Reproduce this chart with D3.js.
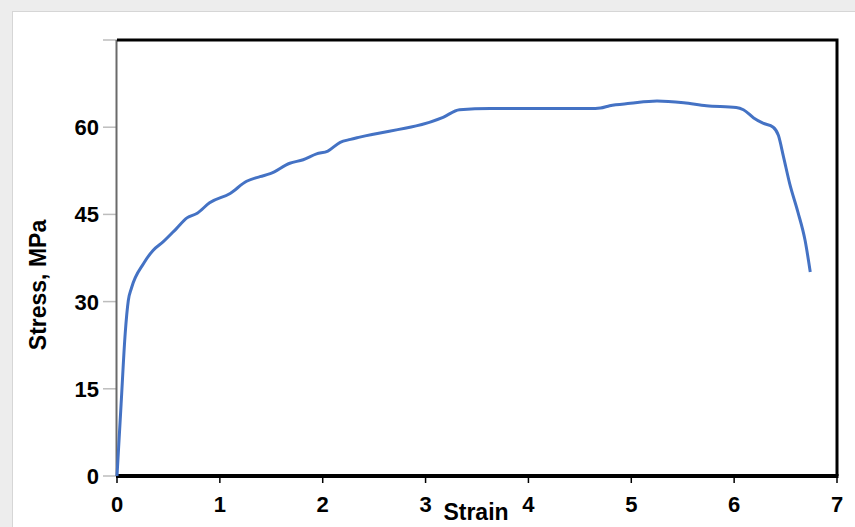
<!DOCTYPE html>
<html>
<head>
    <meta charset="UTF-8">
    <title>Stress-Strain Curve</title>
    <script src="https://d3js.org/d3.v7.min.js"></script>
    <style>
        body {
            margin: 0;
            background: #ededed;
            font-family: "Liberation Sans", Arial, sans-serif;
        }
        .tick-label {
            font-size: 22px;
            font-weight: bold;
            fill: #000;
        }
        .axis-title {
            font-size: 23px;
            font-weight: bold;
            fill: #000;
        }
    </style>
</head>
<body>
    <div id="chart"></div>

    <script type="text/javascript">
        // Strain / stress readings taken off the curve
        const strain = [0, 0.04, 0.08, 0.11, 0.14, 0.26, 0.35, 0.45, 0.58, 0.68, 0.78, 0.90,
            1.10, 1.26, 1.39, 1.49, 1.68, 1.81, 1.94, 2.05, 2.17, 2.27, 2.36,
            3.17, 3.33, 3.63, 4.60, 4.70, 4.79, 4.99, 5.25, 5.51, 5.73, 6.02,
            6.09, 6.19, 6.28, 6.38, 6.43, 6.48, 6.54, 6.62, 6.69, 6.74];
        const stress = [0, 12.4, 24.6, 30.2, 32.3, 36.6, 38.8, 40.3, 42.6, 44.4, 45.2, 47.0,
            48.6, 50.7, 51.5, 52.0, 53.8, 54.4, 55.4, 55.9, 57.4, 57.9, 58.3,
            61.7, 63.0, 63.2, 63.2, 63.3, 63.7, 64.1, 64.5, 64.2, 63.7, 63.4,
            63.0, 61.6, 60.7, 60.0, 58.6, 54.9, 50.3, 45.4, 40.5, 35.1];

        const xTicks = [0, 1, 2, 3, 4, 5, 6, 7];
        const yTicks = [0, 15, 30, 45, 60, 75];
        const yTickLabels = ["0", "15", "30", "45", "60", ""];

        const width = 855, height = 527;
        const plot = { left: 117, right: 837, top: 40, bottom: 476 };

        const svg = d3.select("#chart")
            .append("svg")
            .attr("width", width)
            .attr("height", height);

        // white panel on the grey page
        svg.append("rect")
            .attr("x", 12.5)
            .attr("y", 11.5)
            .attr("width", width)
            .attr("height", height)
            .attr("fill", "#fff")
            .attr("stroke", "#d6d6d6");

        const xScale = d3.scaleLinear().domain([0, 7]).range([plot.left, plot.right]);
        const yScale = d3.scaleLinear().domain([0, 75]).range([plot.bottom, plot.top]);

        // y axis: grey ticks to the left
        svg.append("g")
            .selectAll("line")
            .data(yTicks)
            .join("line")
            .attr("x1", plot.left - 14)
            .attr("x2", plot.left)
            .attr("y1", d => yScale(d))
            .attr("y2", d => yScale(d))
            .attr("stroke", "#bdbdbd")
            .attr("stroke-width", 1.5);

        svg.append("g")
            .selectAll("text")
            .data(yTicks)
            .join("text")
            .attr("class", "tick-label")
            .attr("x", plot.left - 18)
            .attr("y", d => yScale(d))
            .attr("dy", "0.36em")
            .attr("text-anchor", "end")
            .text((d, i) => yTickLabels[i]);

        // left spine
        svg.append("line")
            .attr("x1", plot.left - 0.5)
            .attr("x2", plot.left - 0.5)
            .attr("y1", plot.top)
            .attr("y2", plot.bottom)
            .attr("stroke", "#6a6a6a")
            .attr("stroke-width", 2);

        // top and right border
        svg.append("path")
            .attr("d", `M${plot.left},${plot.top}H${plot.right}V${plot.bottom}`)
            .attr("fill", "none")
            .attr("stroke", "#000")
            .attr("stroke-width", 3);

        // x axis
        svg.append("g")
            .selectAll("line")
            .data(xTicks)
            .join("line")
            .attr("x1", d => xScale(d))
            .attr("x2", d => xScale(d))
            .attr("y1", plot.bottom)
            .attr("y2", plot.bottom + 7)
            .attr("stroke", "#000")
            .attr("stroke-width", 1.5);

        svg.append("line")
            .attr("x1", plot.left - 1)
            .attr("x2", plot.right + 1.5)
            .attr("y1", plot.bottom)
            .attr("y2", plot.bottom)
            .attr("stroke", "#000")
            .attr("stroke-width", 4);

        svg.append("g")
            .selectAll("text")
            .data(xTicks)
            .join("text")
            .attr("class", "tick-label")
            .attr("x", d => xScale(d))
            .attr("y", 512)
            .attr("text-anchor", "middle")
            .text(d => d);

        // curve
        const points = strain.map((s, i) => ({ strain: s, stress: stress[i] }));
        const line = d3.line()
            .x(d => xScale(d.strain))
            .y(d => yScale(d.stress))
            .curve(d3.curveMonotoneX);

        svg.append("path")
            .datum(points)
            .attr("fill", "none")
            .attr("stroke", "#4472c4")
            .attr("stroke-width", 3)
            .attr("stroke-linejoin", "round")
            .attr("d", line);

        // axis titles
        svg.append("text")
            .attr("class", "axis-title")
            .attr("x", 476)
            .attr("y", 520)
            .attr("text-anchor", "middle")
            .text("Strain");

        svg.append("text")
            .attr("class", "axis-title")
            .attr("transform", "translate(46,285) rotate(-90)")
            .attr("text-anchor", "middle")
            .text("Stress, MPa");
    </script>
</body>
</html>
